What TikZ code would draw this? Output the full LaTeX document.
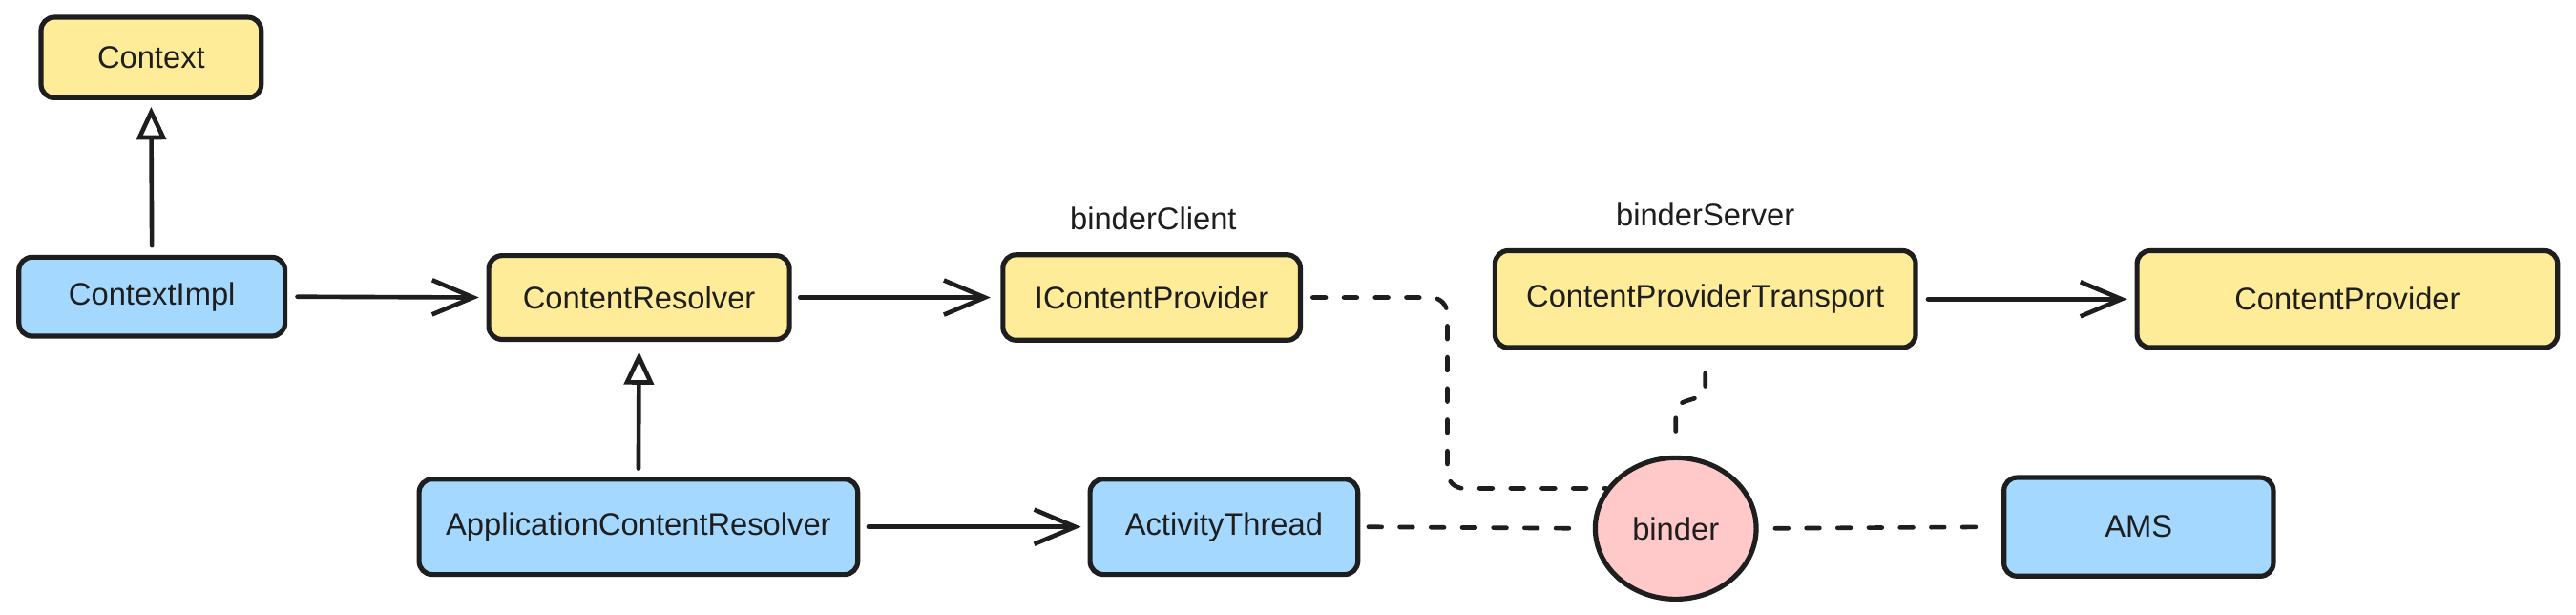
\documentclass[tikz,border=0pt]{standalone}
\usepackage{fontspec}
\setmainfont{Liberation Sans}
\usetikzlibrary{arrows.meta,shapes.geometric,calc}
\definecolor{ink}{HTML}{1E1E1E}
\definecolor{yel}{HTML}{FFEC99}
\definecolor{blu}{HTML}{A5D8FF}
\definecolor{pnk}{HTML}{FFC9C9}
\begin{document}
\begin{tikzpicture}[x=1pt,y=-1pt,
  txt/.style={font=\fontsize{19}{22}\selectfont,text=ink},
  box/.style={txt,draw=ink,line width=3pt,rounded corners=8pt,inner sep=0pt},
  ybox/.style={box,fill=yel},
  bbox/.style={box,fill=blu},
  conn/.style={draw=ink,line width=2.7pt,line cap=round,line join=round},
  arr/.style={conn,-{Straight Barb[length=25pt,width=21pt]}},
  inh/.style={conn,-{Triangle[open,length=20pt,width=18pt,fill=white]}},
  dsh/.style={conn,dash pattern=on 8pt off 11pt}]
\fill[white] (0,0) rectangle (1568,374.1);
\useasboundingbox (0,0) rectangle (1568,374.1);

\node[ybox,minimum width=134pt,minimum height=49pt] (ctx) at (92,35) {Context};
\node[bbox,minimum width=162pt,minimum height=48pt] (cimpl) at (92.5,180.5) {ContextImpl};
\node[ybox,minimum width=183pt,minimum height=51pt] (cr) at (389,181) {ContentResolver};
\node[ybox,minimum width=181pt,minimum height=52pt] (icp) at (701,181) {IContentProvider};
\node[ybox,minimum width=256pt,minimum height=59pt] (cpt) at (1038,182) {ContentProviderTransport};
\node[ybox,minimum width=256pt,minimum height=59pt] (cp) at (1428.8,182) {ContentProvider};
\node[bbox,minimum width=267pt,minimum height=58pt] (acr) at (388.6,320.5) {ApplicationContentResolver};
\node[bbox,minimum width=163pt,minimum height=58pt] (at) at (745,320.5) {ActivityThread};
\node[txt,ellipse,draw=ink,line width=3pt,fill=pnk,minimum width=98pt,minimum height=86pt,inner sep=0pt] (binder) at (1020,321.5) {binder};
\node[bbox,minimum width=164pt,minimum height=60pt] (ams) at (1301.8,320.5) {AMS};
\node[txt] (bc) at (702,133) {binderClient};
\node[txt] (bs) at (1038,130.4) {binderServer};

\draw[inh,shorten <=5.6pt,shorten >=4pt] (cimpl.north) -- (ctx.south);
\draw[inh,shorten <=5pt,shorten >=6pt] (acr.north) -- (cr.south);
\draw[arr,shorten <=6pt,shorten >=4.5pt] (cimpl.east) -- (cr.west);
\draw[arr,shorten <=5pt,shorten >=6pt] (cr.east) -- (icp.west);
\draw[arr,shorten <=6pt,shorten >=4.5pt] (cpt.east) -- (cp.west);
\draw[arr,shorten <=5pt,shorten >=4pt] (acr.east) -- (at.west);

\draw[dsh,shorten <=5pt,shorten >=4pt] (at.east) -- (binder.west);
\draw[dsh,shorten <=10pt,shorten >=5pt] (binder.east) -- (ams.west);
\coordinate (k1) at (881,181);
\draw[dsh,rounded corners=10pt,shorten <=6pt] (icp.east) -- (k1) |- (binder.150);
\coordinate (j1) at (1038,237);
\coordinate (j2) at (1020,250);
\draw[dsh,shorten >=4pt] ($(cpt.south)+(0,14)$) -- (j1) .. controls (1038,244) and (1020,242) .. (j2) -- (binder.north);
\end{tikzpicture}
\end{document}
